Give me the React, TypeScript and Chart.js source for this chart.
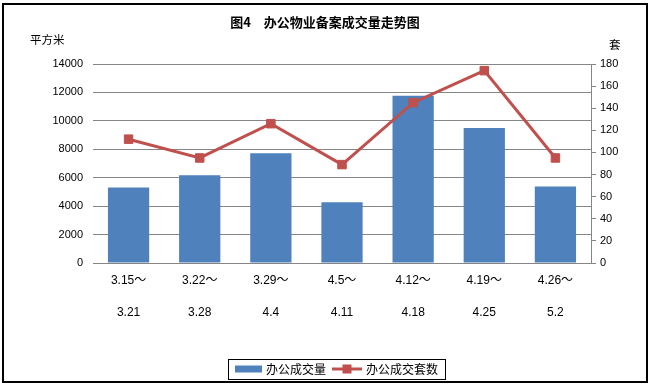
import React, { useEffect, useRef } from "react";
import { Chart, registerables } from "chart.js";

Chart.register(...registerables);

const TITLE = "图4　办公物业备案成交量走势图";
const LEFT_UNIT = "平方米";
const RIGHT_UNIT = "套";
const CATEGORIES = [
  ["3.15～", "3.21"],
  ["3.22～", "3.28"],
  ["3.29～", "4.4"],
  ["4.5～", "4.11"],
  ["4.12～", "4.18"],
  ["4.19～", "4.25"],
  ["4.26～", "5.2"],
];
const AREA_LABEL = "办公成交量";
const UNITS_LABEL = "办公成交套数";
const AREA = [5320, 6170, 7720, 4270, 11760, 9490, 5390];
const UNITS = [112, 95, 126, 89, 145, 174, 95];
const LEFT_MAX = 14000;
const LEFT_STEP = 2000;
const RIGHT_MAX = 180;
const RIGHT_STEP = 20;

const BAR_COLOR = "#4F81BD";
const LINE_COLOR = "#C0504D";
const GRID = "#868686";
const NUM_FONT = "'Liberation Sans', 'Noto Sans CJK SC', sans-serif";
const CJK_FONT = "'Noto Sans CJK SC', sans-serif";

const decor = {
  id: "decor",
  beforeDraw(chart: any) {
    const ctx = chart.ctx;
    ctx.save();
    ctx.fillStyle = "#fff";
    ctx.fillRect(0, 0, chart.width, chart.height);
    ctx.restore();
  },
  afterDraw(chart: any) {
    const ctx = chart.ctx;
    const area = chart.chartArea;
    ctx.save();
    // outer frame
    ctx.strokeStyle = "#000";
    ctx.lineWidth = 2;
    ctx.strokeRect(3, 4, chart.width - 6, chart.height - 8);
    // title
    ctx.fillStyle = "#000";
    ctx.font = "bold 13px " + CJK_FONT;
    ctx.textAlign = "center";
    ctx.textBaseline = "middle";
    ctx.fillText(TITLE, chart.width / 2, 22);
    // unit labels
    ctx.font = "11.5px " + CJK_FONT;
    ctx.textAlign = "left";
    ctx.fillText(LEFT_UNIT, area.left - 63, area.top - 24);
    ctx.fillText(RIGHT_UNIT, area.right + 18, area.top - 19);
    // legend
    const ds = chart.data.datasets;
    ctx.font = "12px " + CJK_FONT;
    const w1 = ctx.measureText(ds[0].label).width;
    const w2 = ctx.measureText(ds[1].label).width;
    const pad = 7, sw = 27, gap = 4, gap2 = 6, mw = 30;
    const total = pad + sw + gap + w1 + gap2 + mw + gap + w2 + pad;
    const cx = (area.left + area.right) / 2 - 5;
    const x0 = Math.round(cx - total / 2);
    const top = chart.height - 27;
    const h = 20;
    const cy = top + h / 2;
    ctx.fillStyle = "#fff";
    ctx.fillRect(x0, top, total, h);
    ctx.strokeStyle = "#000";
    ctx.lineWidth = 1;
    ctx.strokeRect(x0 + 0.5, top + 0.5, Math.round(total), h);
    let x = x0 + pad;
    ctx.fillStyle = ds[0].backgroundColor;
    ctx.fillRect(x, cy - 3.5, sw, 7);
    x += sw + gap;
    ctx.fillStyle = "#000";
    ctx.textBaseline = "middle";
    ctx.fillText(ds[0].label, x, cy + 0.5);
    x += w1 + gap2;
    ctx.strokeStyle = ds[1].borderColor;
    ctx.lineWidth = 3;
    ctx.beginPath();
    ctx.moveTo(x, cy);
    ctx.lineTo(x + mw, cy);
    ctx.stroke();
    ctx.fillStyle = ds[1].pointBackgroundColor;
    ctx.fillRect(x + mw / 2 - 4.5, cy - 4.5, 9, 9);
    x += mw + gap;
    ctx.fillStyle = "#000";
    ctx.fillText(ds[1].label, x, cy + 0.5);
    ctx.restore();
  },
};

export default function App() {
  const ref = useRef<HTMLCanvasElement | null>(null);
  useEffect(() => {
    if (!ref.current) return;
    const chart = new Chart(ref.current, {
      type: "bar",
      data: {
        labels: CATEGORIES,
        datasets: [
          {
            type: "bar",
            label: AREA_LABEL,
            data: AREA,
            yAxisID: "y",
            backgroundColor: BAR_COLOR,
            barPercentage: 0.58,
            categoryPercentage: 1,
            order: 2,
          } as any,
          {
            type: "line",
            label: UNITS_LABEL,
            data: UNITS,
            yAxisID: "y1",
            borderColor: LINE_COLOR,
            backgroundColor: LINE_COLOR,
            borderWidth: 3,
            pointStyle: "rect",
            pointRadius: 6,
            pointBorderWidth: 1,
            pointBackgroundColor: LINE_COLOR,
            pointBorderColor: LINE_COLOR,
            tension: 0,
            order: 1,
          } as any,
        ],
      },
      options: {
        responsive: false,
        animation: false,
        devicePixelRatio: 1,
        layout: { padding: { top: 64, left: 0, right: 0, bottom: 63 } },
        plugins: {
          legend: { display: false },
          title: { display: false },
          tooltip: { enabled: false },
        },
        scales: {
          x: {
            grid: { display: false, drawTicks: false },
            border: { display: true, color: GRID, width: 1 },
            ticks: {
              color: "#000",
              padding: 2,
              maxRotation: 0,
              autoSkip: false,
              font: { family: NUM_FONT, size: 12, lineHeight: 32 / 12 },
            },
            afterFit: (s: any) => {
              s.height = 60;
            },
          },
          y: {
            position: "left",
            min: 0,
            max: LEFT_MAX,
            ticks: {
              stepSize: LEFT_STEP,
              color: "#000",
              padding: 10,
              font: { family: NUM_FONT, size: 11 },
              callback: (v: any) => String(v),
            },
            grid: { color: GRID, drawTicks: false, lineWidth: 1 },
            border: { display: false },
            afterFit: (s: any) => {
              s.width = 93;
            },
          },
          y1: {
            position: "right",
            min: 0,
            max: RIGHT_MAX,
            ticks: {
              stepSize: RIGHT_STEP,
              color: "#000",
              padding: 4,
              font: { family: NUM_FONT, size: 11 },
              callback: (v: any) => String(v),
            },
            grid: { drawOnChartArea: false, drawTicks: true, tickLength: 5, color: GRID },
            border: { display: true, color: GRID, width: 1 },
            afterFit: (s: any) => {
              s.width = 59;
            },
          },
        },
      } as any,
      plugins: [decor],
    });
    return () => chart.destroy();
  }, []);
  return (
    <div style={{ position: "absolute", left: 0, top: 0, width: 650, height: 386 }}>
      <canvas ref={ref} width={650} height={386} style={{ display: "block" }} />
    </div>
  );
}
